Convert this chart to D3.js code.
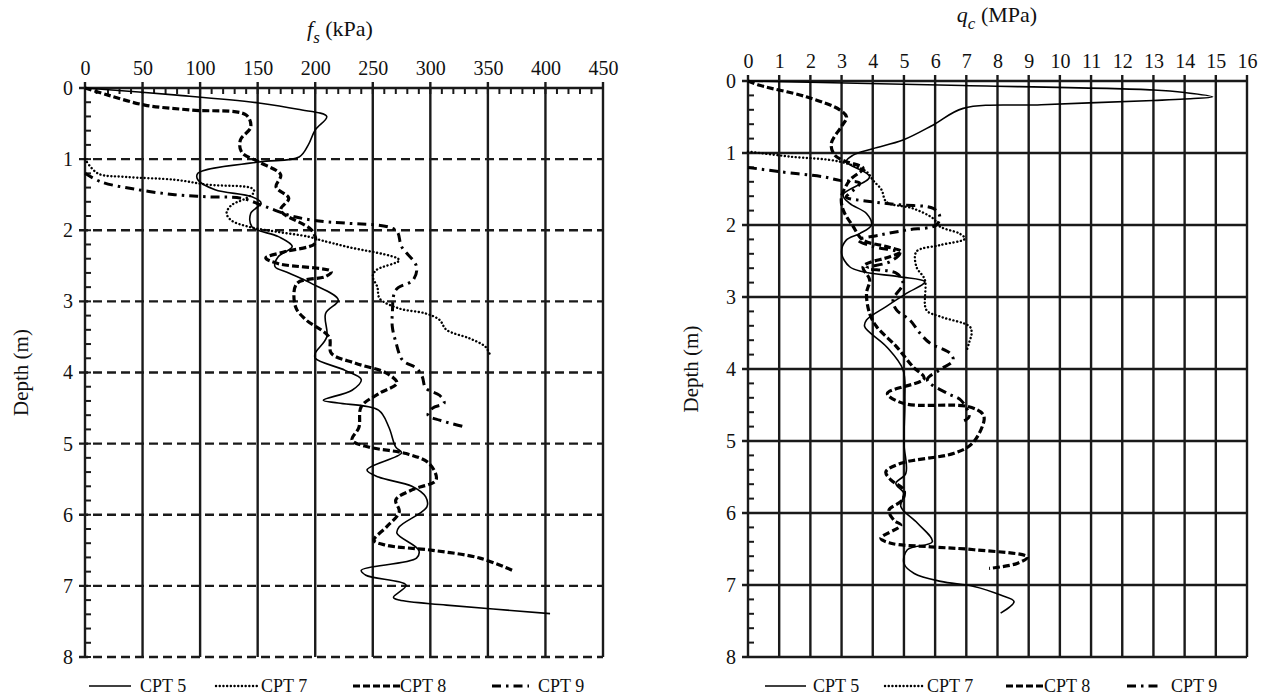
<!doctype html>
<html>
<head>
<style>
  body { margin: 0; background: #fff; }
  svg { font-family: "Liberation Serif", "Times New Roman", serif; }
  .grid { stroke: #1a1a1a; stroke-width: 2.4; }
  .ser { fill: none; stroke: #000; }
</style>
<script src="https://d3js.org/d3.v7.min.js"></script>
</head>
<body>
<svg width="1268" height="700"></svg>
<script>
// ---- data: depth (m) / sleeve friction fs (kPa)
var fs5Depth = [0, 0.1, 0.21, 0.3, 0.4, 0.59, 0.8, 0.97, 1.04, 1.2, 1.29, 1.43, 1.53, 1.62, 1.76, 1.95, 2.09, 2.23, 2.37, 2.51, 2.6, 2.75, 2.98, 3.17, 3.5, 3.73, 3.8, 3.97, 4.1, 4.25, 4.39, 4.43, 4.53, 4.77, 5.05, 5.13, 5.37, 5.47, 5.6, 5.75, 5.89, 6.17, 6.26, 6.5, 6.61, 6.78, 6.85, 6.99, 7.16, 7.2, 7.27, 7.39];
var fs5 = [0, 80, 151, 185, 210, 200, 194, 186, 151, 98, 98, 113, 145, 153, 144, 145, 168, 180, 168, 165, 177, 197, 220, 209, 210, 200, 200, 226, 240, 232, 207, 220, 255, 264, 270, 275, 245, 255, 284, 296, 297, 273, 271, 290, 288, 240, 244, 279, 268, 273, 314, 404];

var fs7Depth = [1.0, 1.2, 1.25, 1.29, 1.36, 1.41, 1.46, 1.55, 1.65, 1.76, 1.86, 1.95, 2.02, 2.09, 2.14, 2.23, 2.42, 2.56, 2.65, 2.8, 2.96, 3.1, 3.17, 3.26, 3.4, 3.52, 3.64, 3.76];
var fs7 = [0, 11, 35, 78, 107, 145, 147, 140, 127, 123, 127, 142, 166, 194, 205, 227, 273, 253, 250, 254, 256, 273, 296, 308, 314, 334, 348, 352];

var fs8Depth = [0, 0.1, 0.24, 0.31, 0.38, 0.55, 0.73, 0.9, 1.04, 1.22, 1.39, 1.55, 1.72, 2.0, 2.18, 2.3, 2.39, 2.47, 2.58, 2.65, 2.75, 3.08, 3.26, 3.5, 3.73, 3.87, 4.01, 4.15, 4.29, 4.48, 4.77, 4.95, 5.05, 5.14, 5.28, 5.51, 5.65, 5.79, 5.96, 6.17, 6.36, 6.43, 6.5, 6.61, 6.78];
var fs8 = [0, 20, 52, 92, 140, 144, 135, 136, 151, 170, 166, 177, 170, 197, 200, 174, 157, 168, 214, 209, 184, 183, 192, 212, 214, 235, 262, 271, 256, 240, 238, 232, 247, 279, 299, 305, 284, 270, 273, 262, 251, 262, 302, 343, 371];

var fs9Depth = [1.2, 1.32, 1.43, 1.5, 1.53, 1.55, 1.67, 1.81, 1.88, 1.9, 2.0, 2.23, 2.51, 2.7, 2.84, 3.17, 3.36, 3.57, 3.83, 3.94, 4.06, 4.22, 4.32, 4.43, 4.5, 4.6, 4.67, 4.72, 4.77];
var fs9 = [0, 14, 46, 78, 107, 136, 157, 182, 209, 227, 270, 275, 288, 285, 270, 267, 267, 270, 276, 288, 293, 296, 308, 312, 302, 298, 308, 319, 331];

// ---- data: depth (m) / cone resistance qc (MPa)
var qc5Depth = [0, 0.06, 0.125, 0.16, 0.22, 0.25, 0.27, 0.33, 0.38, 0.61, 0.82, 0.94, 1.03, 1.12, 1.33, 1.58, 1.7, 1.84, 2.0, 2.12, 2.21, 2.39, 2.58, 2.65, 2.72, 2.79, 2.95, 3.13, 3.32, 3.41, 3.69, 4.01, 4.43, 5.03, 5.45, 5.59, 5.73, 5.91, 6.14, 6.4, 6.51, 6.7, 6.84, 6.95, 7.02, 7.14, 7.23, 7.39];
var qc5 = [0, 6.5, 13, 14, 14.9, 14, 13, 9.4, 6.9, 5.94, 4.97, 4.0, 3.37, 3.15, 3.9, 3.05, 3.26, 3.8, 3.96, 3.58, 3.15, 3.0, 3.26, 3.69, 4.87, 5.67, 5.08, 4.44, 3.8, 3.74, 4.44, 4.97, 5.03, 5.0, 5.06, 4.74, 5.0, 4.9, 5.43, 5.91, 5.11, 5.0, 5.33, 6.18, 7.25, 8.1, 8.53, 8.1];

var qc7Depth = [0.98, 1.05, 1.12, 1.26, 1.38, 1.51, 1.68, 1.77, 1.91, 2.02, 2.12, 2.19, 2.28, 2.37, 2.58, 2.76, 3.18, 3.27, 3.41, 3.5, 3.62, 3.76];
var qc7 = [0, 1.34, 2.94, 3.8, 4.01, 4.28, 4.44, 5.29, 5.94, 6.15, 6.79, 6.95, 6.15, 5.4, 5.4, 5.67, 5.72, 6.15, 7.11, 7.17, 7.1, 7.0];

var qc8Depth = [0, 0.06, 0.22, 0.4, 0.5, 0.63, 0.87, 1.03, 1.12, 1.21, 1.38, 1.61, 1.79, 2.02, 2.21, 2.3, 2.37, 2.44, 2.58, 2.76, 2.95, 3.23, 3.41, 3.69, 3.97, 4.13, 4.34, 4.48, 4.52, 4.62, 4.71, 5.03, 5.17, 5.31, 5.43, 5.54, 5.68, 5.82, 5.96, 6.1, 6.17, 6.35, 6.42, 6.47, 6.51, 6.61, 6.7, 6.77];
var qc8 = [0, 0.37, 1.87, 2.94, 3.16, 3.0, 2.67, 2.78, 3.15, 3.69, 3.26, 3.0, 3.05, 3.37, 3.69, 4.44, 4.92, 4.55, 3.69, 3.9, 3.8, 3.9, 4.12, 4.76, 5.29, 5.65, 4.47, 5.0, 7.04, 7.52, 7.57, 7.2, 6.61, 4.9, 4.42, 4.58, 5.0, 4.95, 4.52, 4.68, 4.9, 4.26, 4.58, 5.86, 7.25, 8.96, 8.63, 7.73];

var qc9Depth = [1.2, 1.26, 1.33, 1.38, 1.42, 1.56, 1.61, 1.68, 1.72, 1.77, 1.88, 2.0, 2.07, 2.14, 2.21, 2.3, 2.39, 2.51, 2.6, 2.67, 2.81, 3.04, 3.18, 3.32, 3.5, 3.64, 3.78, 3.88, 4.01, 4.15, 4.34, 4.43, 4.66, 4.72];
var qc9 = [0, 1.02, 2.4, 2.94, 3.58, 3.26, 3.15, 4.01, 4.87, 5.94, 6.15, 6.04, 5.08, 4.22, 3.53, 4.01, 4.87, 4.55, 3.8, 4.76, 4.97, 4.65, 4.76, 5.19, 5.51, 5.83, 6.47, 6.58, 6.15, 5.75, 6.4, 6.82, 7.09, 6.93];

var depthTicks = [0, 1, 2, 3, 4, 5, 6, 7, 8];
var fsTicks = [0, 50, 100, 150, 200, 250, 300, 350, 400, 450];
var qcTicks = d3.range(0, 17);
var seriesNames = ["CPT 5", "CPT 7", "CPT 8", "CPT 9"];

var styles = [
  { w: 1.6, dash: null, cap: "butt" },
  { w: 2.4, dash: "0.1,3.6", cap: "round" },
  { w: 3.2, dash: "7,3", cap: "butt" },
  { w: 3.0, dash: "9,5,2.5,5", cap: "butt" }
];

var svg = d3.select("svg");

function drawChart(opt) {
  var x = d3.scaleLinear().domain(opt.xDomain).range(opt.xRange);
  var y = d3.scaleLinear().domain([0, 8]).range(opt.yRange);
  var g = svg.append("g");

  // minor ticks on the depth axis (every 0.2 m)
  g.selectAll(".ymin").data(d3.range(0, 8.01, 0.2)).enter().append("line")
    .attr("x1", x(0)).attr("x2", x(0) + 6)
    .attr("y1", function(d) { return y(d); }).attr("y2", function(d) { return y(d); })
    .attr("stroke", "#1a1a1a").attr("stroke-width", 2);

  if (opt.xMinor) {
    g.selectAll(".xmin").data(d3.range(0, opt.xDomain[1] + 0.1, opt.xMinor)).enter().append("line")
      .attr("x1", function(d) { return x(d); }).attr("x2", function(d) { return x(d); })
      .attr("y1", y(0)).attr("y2", y(0) + 6)
      .attr("stroke", "#1a1a1a").attr("stroke-width", 2);
  }

  // vertical grid
  g.selectAll(".vg").data(opt.xTicks).enter().append("line")
    .attr("class", "grid")
    .attr("x1", function(d) { return x(d); }).attr("x2", function(d) { return x(d); })
    .attr("y1", y(0) - 6).attr("y2", y(8));

  // horizontal grid
  g.selectAll(".hg").data(depthTicks).enter().append("line")
    .attr("class", "grid")
    .attr("x1", function(d) { return x(0) - 6; }).attr("x2", x(opt.xDomain[1]))
    .attr("y1", function(d) { return y(d); }).attr("y2", function(d) { return y(d); })
    .attr("stroke-dasharray", function(d) { return (opt.dashedH && d > 0) ? "9,5" : null; });

  // top axis labels
  g.append("g")
    .attr("transform", "translate(0," + (y(0) - 6) + ")")
    .call(d3.axisTop(x).tickValues(opt.xTicks).tickSize(0).tickPadding(7))
    .call(function(a) {
      a.select(".domain").remove();
      a.selectAll("text").attr("font-size", 20).attr("fill", "#111")
        .attr("font-family", "Liberation Serif");
    });

  // left axis labels
  g.append("g")
    .attr("transform", "translate(" + (x(0) - 6) + ",0)")
    .call(d3.axisLeft(y).tickValues(depthTicks).tickSize(0).tickPadding(6))
    .call(function(a) {
      a.select(".domain").remove();
      a.selectAll("text").attr("font-size", 20).attr("fill", "#111")
        .attr("font-family", "Liberation Serif");
    });

  // data lines
  var line = d3.line()
    .x(function(d) { return x(d[1]); })
    .y(function(d) { return y(d[0]); })
    .curve(d3.curveCatmullRom.alpha(0.5));

  opt.series.forEach(function(s, i) {
    var pts = s.depth.map(function(dp, k) { return [dp, s.vals[k]]; });
    g.append("path").attr("class", "ser")
      .attr("d", line(pts))
      .attr("stroke-width", styles[i].w)
      .attr("stroke-dasharray", styles[i].dash)
      .attr("stroke-linecap", styles[i].cap);
  });

  // axis titles
  var t = g.append("text")
    .attr("x", opt.titleX).attr("y", opt.titleY)
    .attr("text-anchor", "middle").attr("font-size", 22).attr("fill", "#111");
  t.append("tspan").attr("font-style", "italic").text(opt.sym);
  t.append("tspan").attr("font-style", "italic").attr("font-size", 17)
    .attr("dy", 7).text(opt.sub);
  t.append("tspan").attr("dy", -7).text(" " + opt.unit);

  g.append("text")
    .attr("transform", "translate(" + opt.depthX + "," + ((opt.yRange[0] + opt.yRange[1]) / 2) + ") rotate(-90)")
    .attr("text-anchor", "middle").attr("font-size", 21).attr("fill", "#111")
    .text("Depth (m)");

  // legend
  opt.legend.forEach(function(l, i) {
    g.append("line")
      .attr("x1", l[0]).attr("x2", l[1])
      .attr("y1", opt.legendY).attr("y2", opt.legendY)
      .attr("stroke", "#000")
      .attr("stroke-width", styles[i].w)
      .attr("stroke-dasharray", styles[i].dash)
      .attr("stroke-linecap", styles[i].cap);
    g.append("text")
      .attr("x", l[2]).attr("y", opt.legendY + 6)
      .attr("font-size", 18).attr("fill", "#111")
      .text(seriesNames[i]);
  });
}

drawChart({
  xDomain: [0, 450], xRange: [85, 603], yRange: [88, 657],
  xTicks: fsTicks, xMinor: 10, dashedH: true,
  series: [
    { depth: fs5Depth, vals: fs5 },
    { depth: fs7Depth, vals: fs7 },
    { depth: fs8Depth, vals: fs8 },
    { depth: fs9Depth, vals: fs9 }
  ],
  sym: "f", sub: "s", unit: "(kPa)", titleX: 340, titleY: 36,
  depthX: 28,
  legendY: 686,
  legend: [[89, 131, 140], [216, 258, 261], [353, 400, 400], [492, 529, 538]]
});

drawChart({
  xDomain: [0, 16], xRange: [748, 1247], yRange: [81, 657],
  xTicks: qcTicks, xMinor: null, dashedH: false,
  series: [
    { depth: qc5Depth, vals: qc5 },
    { depth: qc7Depth, vals: qc7 },
    { depth: qc8Depth, vals: qc8 },
    { depth: qc9Depth, vals: qc9 }
  ],
  sym: "q", sub: "c", unit: "(MPa)", titleX: 997, titleY: 22,
  depthX: 698,
  legendY: 686,
  legend: [[765, 806, 813], [885, 923, 927], [1006, 1044, 1044], [1127, 1160, 1171]]
});
</script>
</body>
</html>
